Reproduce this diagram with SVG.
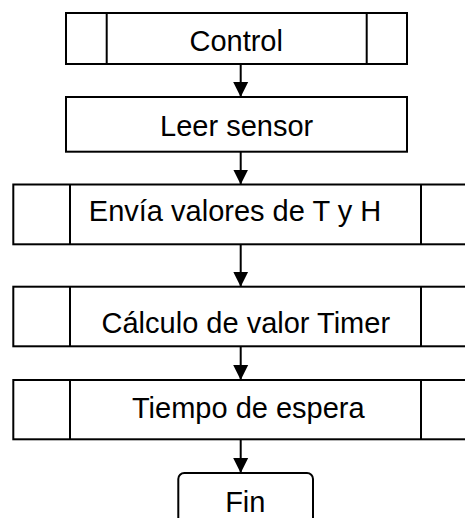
<svg xmlns="http://www.w3.org/2000/svg" width="465" height="518" viewBox="0 0 465 518">
  <style>
    .box { fill: #ffffff; stroke: #000000; stroke-width: 2; }
    .div { stroke: #000000; stroke-width: 2; fill: none; }
    .lbl { font-family: "Liberation Sans", Arial, sans-serif; font-size: 29px; fill: #000000; text-anchor: middle; }
    .flow { stroke: #000000; stroke-width: 2; fill: none; marker-end: url(#head); }
  </style>
  <defs>
    <marker id="head" markerUnits="userSpaceOnUse" markerWidth="16" markerHeight="16" viewBox="0 0 16 16" refX="15" refY="8" orient="auto">
      <path d="M0,0.5 L15,8 L0,15.5 Z" fill="#000000"/>
    </marker>
  </defs>
  <rect width="465" height="518" fill="#ffffff"/>

  <g id="connectors">
    <line class="flow" x1="240.7" y1="64" x2="240.7" y2="97"/>
    <line class="flow" x1="240.7" y1="151.7" x2="240.7" y2="184.5"/>
    <line class="flow" x1="240.7" y1="244.3" x2="240.7" y2="286.7"/>
    <line class="flow" x1="240.7" y1="346.3" x2="240.7" y2="380"/>
    <line class="flow" x1="240.7" y1="439.3" x2="240.7" y2="473"/>
  </g>

  <g id="control">
    <rect class="box" x="66" y="13" width="341" height="51"/>
    <line class="div" x1="106.7" y1="13" x2="106.7" y2="64"/>
    <line class="div" x1="366.7" y1="13" x2="366.7" y2="64"/>
    <text class="lbl" x="236.2" y="51">Control</text>
  </g>

  <g id="leer-sensor">
    <rect class="box" x="66" y="97" width="341" height="54.7"/>
    <text class="lbl" x="236.7" y="135.7">Leer sensor</text>
  </g>

  <g id="envia-valores">
    <rect class="box" x="13.3" y="184.5" width="470" height="59.8"/>
    <line class="div" x1="70" y1="184.5" x2="70" y2="244.3"/>
    <line class="div" x1="421" y1="184.5" x2="421" y2="244.3"/>
    <text class="lbl" x="235" y="221">Envía valores de T y H</text>
  </g>

  <g id="calculo-timer">
    <rect class="box" x="13.3" y="286.7" width="470" height="59.6"/>
    <line class="div" x1="70" y1="286.7" x2="70" y2="346.3"/>
    <line class="div" x1="421" y1="286.7" x2="421" y2="346.3"/>
    <text class="lbl" x="245.8" y="333.3">Cálculo de valor Timer</text>
  </g>

  <g id="tiempo-espera">
    <rect class="box" x="13.3" y="380" width="470" height="59.3"/>
    <line class="div" x1="70" y1="380" x2="70" y2="439.3"/>
    <line class="div" x1="421" y1="380" x2="421" y2="439.3"/>
    <text class="lbl" x="248.3" y="418.3">Tiempo de espera</text>
  </g>

  <g id="fin">
    <rect class="box" x="178.3" y="473" width="134.7" height="60" rx="6" ry="6"/>
    <text class="lbl" x="245.3" y="512">Fin</text>
  </g>
</svg>
